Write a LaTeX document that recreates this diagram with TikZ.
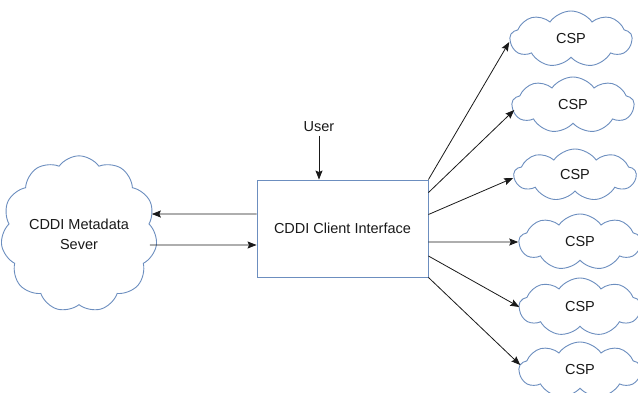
\documentclass[tikz,border=0pt]{standalone}
\usepackage{fontspec}
\setmainfont{Liberation Sans}
\usetikzlibrary{shapes.symbols,arrows.meta}
\definecolor{cblue}{RGB}{108,142,191}
\definecolor{ink}{RGB}{25,25,25}
\begin{document}
\begin{tikzpicture}[x=1pt,y=-1pt,
  every node/.style={font=\fontsize{14.5}{20}\selectfont, text=ink},
  cloudnode/.style={cloud, cloud puffs=11, cloud puff arc=110, draw=cblue, line width=0.9pt, fill=white, inner sep=0pt, align=center},
  cspcloud/.style={cloudnode, cloud puffs=9, minimum width=122pt, minimum height=56pt},
  boxnode/.style={draw=cblue, line width=0.9pt, minimum width=171pt, minimum height=97pt, inner sep=0pt},
  arr/.style={draw=ink, line width=0.8pt, -{Stealth[length=9pt,width=7pt,inset=1.5pt]}}]
\useasboundingbox (0,0) rectangle (638,392);
\node[boxnode] (box) at (342.5,228.5) {CDDI Client Interface};
\node (user) at (319,127) {User};
\node[cloudnode, minimum width=150pt, minimum height=106pt] (meta) at (79,234) {CDDI Metadata\\Sever};
\node[cspcloud] (csp1) at (571,39) {CSP};
\node[cspcloud] (csp2) at (573,105) {CSP};
\node[cspcloud, minimum height=52pt] (csp3) at (575,175) {CSP};
\node[cspcloud] (csp4) at (580,242) {CSP};
\node[cspcloud, minimum height=58pt] (csp5) at (580,307) {CSP};
\node[cspcloud] (csp6) at (580,370) {CSP};
\draw[arr] (user) -- (box.north -| user);
\draw[arr] ([yshift=14.5pt]box.west) -- ([yshift=20pt,xshift=-4pt]meta.east);
\draw[arr] ([xshift=-6pt,yshift=-11pt]meta.east) -- ([yshift=-16.5pt]box.west);
\draw[arr] (box.north east) -- ([yshift=-3pt]csp1.west);
\draw[arr] ([yshift=-13pt]box.north east) -- ([xshift=3pt,yshift=-5pt]csp2.west);
\draw[arr] ([yshift=14pt]box.east) -- ([yshift=-3pt]csp3.west);
\draw[arr] ([yshift=-13.5pt]box.east) -- (csp4.west);
\draw[arr] ([yshift=-27.5pt]box.east) -- ([xshift=1pt]csp5.west);
\draw[arr] (box.south east) -- ([xshift=2pt,yshift=5pt]csp6.west);
\end{tikzpicture}
\end{document}
